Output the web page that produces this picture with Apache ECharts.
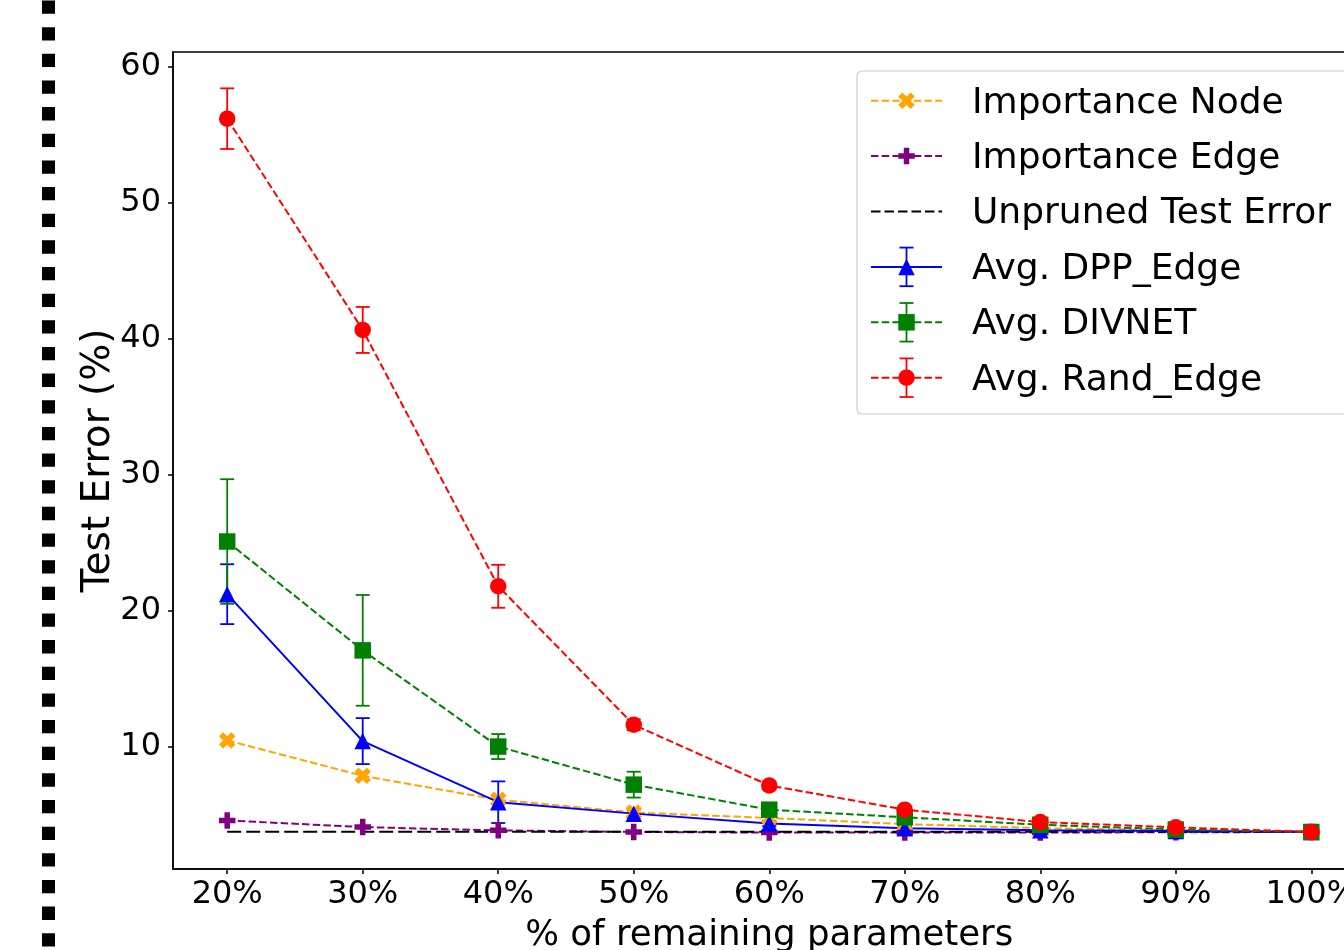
<!DOCTYPE html>
<html>
<head>
<meta charset="utf-8">
<script src="https://cdn.jsdelivr.net/npm/echarts@6/dist/echarts.min.js"></script>
<style>
html,body{margin:0;padding:0;background:#fff;}
#chart{width:1344px;height:950px;}
</style>
</head>
<body>
<div id="chart"></div>
<script>
// ---- data ----
const xValues = [20, 30, 40, 50, 60, 70, 80, 90, 100];
const xTickLabels = ['20%', '30%', '40%', '50%', '60%', '70%', '80%', '90%', '100%'];
const yTicks = [10, 20, 30, 40, 50, 60];

const importanceNode = [10.45, 7.85, 6.09, 5.15, 4.75, 4.3, 4.0, 3.85, 3.75];
const importanceEdge = [4.57, 4.08, 3.84, 3.72, 3.68, 3.68, 3.68, 3.7, 3.72];
const unpruned = [3.74, 3.74, 3.74, 3.74, 3.74, 3.74, 3.74, 3.74, 3.74];
const dppEdge = [21.2, 10.4, 5.91, 5.07, 4.35, 4.0, 3.85, 3.8, 3.72];
const dppEdgeErr = [2.2, 1.69, 1.53, 0.3, 0.2, 0.15, 0.1, 0.1, 0.05];
const divnet = [25.07, 17.07, 10.0, 7.2, 5.36, 4.8, 4.25, 3.9, 3.72];
const divnetErr = [4.58, 4.07, 0.92, 0.95, 0.3, 0.25, 0.2, 0.15, 0.1];
const randEdge = [56.15, 40.62, 21.78, 11.6, 7.14, 5.36, 4.45, 4.06, 3.72];
const randEdgeErr = [2.23, 1.69, 1.58, 0.4, 0.3, 0.25, 0.2, 0.15, 0.1];

const seriesNames = ['Importance Node', 'Importance Edge', 'Unpruned Test Error', 'Avg. DPP_Edge', 'Avg. DIVNET', 'Avg. Rand_Edge'];

// ---- styles ----
const FONT = 'DejaVu Sans';
const COLORS = ['#FFA500', '#800080', '#000000', '#0000FF', '#008000', '#FF0000'];
const DASH = [7.5, 3.2];
const MS = 16.5;
const X_PATH = 'path://M1,0 L2,1 L3,0 L4,1 L3,2 L4,3 L3,4 L2,3 L1,4 L0,3 L1,2 L0,1 Z';
const P_PATH = 'path://M1,0 L2,0 L2,1 L3,1 L3,2 L2,2 L2,3 L1,3 L1,2 L0,2 L0,1 L1,1 Z';

function pairs(vals) { return xValues.map((x, i) => [x, vals[i]]); }
function errData(vals, errs) { return xValues.map((x, i) => [x, vals[i] - errs[i], vals[i] + errs[i]]); }

function errSeries(vals, errs, color) {
  return {
    type: 'custom',
    silent: true,
    data: errData(vals, errs),
    encode: { x: 0, y: [1, 2] },
    renderItem: function (params, api) {
      const lo = api.coord([api.value(0), api.value(1)]);
      const hi = api.coord([api.value(0), api.value(2)]);
      const cw = 7;
      const st = { stroke: color, lineWidth: 1.8 };
      return {
        type: 'group',
        children: [
          { type: 'line', shape: { x1: lo[0], y1: lo[1], x2: hi[0], y2: hi[1] }, style: st },
          { type: 'line', shape: { x1: lo[0] - cw, y1: lo[1], x2: lo[0] + cw, y2: lo[1] }, style: st },
          { type: 'line', shape: { x1: hi[0] - cw, y1: hi[1], x2: hi[0] + cw, y2: hi[1] }, style: st }
        ]
      };
    }
  };
}

function lineSeries(name, vals, color, symbol, size, dashed) {
  return {
    name: name,
    type: 'line',
    data: pairs(vals),
    symbol: symbol,
    symbolSize: size,
    showSymbol: symbol !== 'none',
    silent: true,
    animation: false,
    lineStyle: { color: color, width: 2, type: dashed },
    itemStyle: { color: color, borderWidth: 0 }
  };
}

const series = [
  lineSeries(seriesNames[0], importanceNode, COLORS[0], X_PATH, MS, DASH),
  lineSeries(seriesNames[1], importanceEdge, COLORS[1], P_PATH, MS, DASH),
  lineSeries(seriesNames[2], unpruned, COLORS[2], 'none', 0, [14, 5]),
  errSeries(dppEdge, dppEdgeErr, COLORS[3]),
  lineSeries(seriesNames[3], dppEdge, COLORS[3], 'triangle', MS, 'solid'),
  errSeries(divnet, divnetErr, COLORS[4]),
  lineSeries(seriesNames[4], divnet, COLORS[4], 'rect', MS, DASH),
  errSeries(randEdge, randEdgeErr, COLORS[5]),
  lineSeries(seriesNames[5], randEdge, COLORS[5], 'circle', MS, DASH)
];

// ---- legend built as graphic (matplotlib style) ----
const LG = { x: 857, y: 71, rowY0: 100.7, rowStep: 55.4, lineX1: 871, lineX2: 942, mx: 906.5, textX: 972, textDy: 2.5 };
const legendKinds = [
  { marker: 'x', dash: DASH, err: false },
  { marker: 'plus', dash: DASH, err: false },
  { marker: 'none', dash: [9.5, 4], err: false },
  { marker: 'triangle', dash: null, err: true },
  { marker: 'square', dash: DASH, err: true },
  { marker: 'circle', dash: DASH, err: true }
];
function markerGraphic(kind, cx, cy, color) {
  const s = MS / 2;
  if (kind === 'circle') return { type: 'circle', shape: { cx: cx, cy: cy, r: s }, style: { fill: color } };
  if (kind === 'square') return { type: 'rect', shape: { x: cx - s, y: cy - s, width: 2 * s, height: 2 * s }, style: { fill: color } };
  if (kind === 'triangle') return { type: 'polygon', shape: { points: [[cx, cy - s], [cx + s, cy + s], [cx - s, cy + s]] }, style: { fill: color } };
  if (kind === 'x') {
    const u = 2 * s / 4;
    const pts = [[1,0],[2,1],[3,0],[4,1],[3,2],[4,3],[3,4],[2,3],[1,4],[0,3],[1,2],[0,1]].map(p => [cx - s + p[0] * u, cy - s + p[1] * u]);
    return { type: 'polygon', shape: { points: pts }, style: { fill: color } };
  }
  if (kind === 'plus') {
    const u = 2 * s / 3;
    const pts = [[1,0],[2,0],[2,1],[3,1],[3,2],[2,2],[2,3],[1,3],[1,2],[0,2],[0,1],[1,1]].map(p => [cx - s + p[0] * u, cy - s + p[1] * u]);
    return { type: 'polygon', shape: { points: pts }, style: { fill: color } };
  }
  return null;
}
const legendChildren = [
  { type: 'rect', shape: { x: LG.x, y: LG.y, width: 560, height: 343, r: 5 }, style: { fill: 'rgba(255,255,255,0.85)', stroke: '#cccccc', lineWidth: 1.2 } }
];
seriesNames.forEach((name, i) => {
  const cy = LG.rowY0 + i * LG.rowStep;
  const k = legendKinds[i];
  const color = COLORS[i];
  legendChildren.push({ type: 'line', shape: { x1: LG.lineX1, y1: cy, x2: LG.lineX2, y2: cy }, style: { stroke: color, lineWidth: 2, lineDash: k.dash || null } });
  if (k.err) {
    const h = 19.3, cw = 7;
    legendChildren.push({ type: 'line', shape: { x1: LG.mx, y1: cy - h, x2: LG.mx, y2: cy + h }, style: { stroke: color, lineWidth: 1.8 } });
    legendChildren.push({ type: 'line', shape: { x1: LG.mx - cw, y1: cy - h, x2: LG.mx + cw, y2: cy - h }, style: { stroke: color, lineWidth: 1.8 } });
    legendChildren.push({ type: 'line', shape: { x1: LG.mx - cw, y1: cy + h, x2: LG.mx + cw, y2: cy + h }, style: { stroke: color, lineWidth: 1.8 } });
  }
  const m = markerGraphic(k.marker, LG.mx, cy, color);
  if (m) legendChildren.push(m);
  legendChildren.push({ type: 'text', x: LG.textX, y: cy + LG.textDy, style: { text: name, font: '36px "DejaVu Sans"', fill: '#000', textVerticalAlign: 'middle', textAlign: 'left' } });
});

const chart = echarts.init(document.getElementById('chart'), null, { renderer: 'canvas' });
chart.setOption({
  animation: false,
  backgroundColor: '#ffffff',
  textStyle: { fontFamily: FONT },
  grid: { left: 173, top: 52, right: -21.5, bottom: 81, containLabel: false, outerBoundsMode: 'none',
    show: true, borderColor: '#000', borderWidth: 1.5, backgroundColor: 'transparent' },
  xAxis: {
    type: 'value', min: 16, max: 104,
    name: '% of remaining parameters', nameLocation: 'middle', nameGap: 49, nameMoveOverlap: false,
    nameTextStyle: { fontSize: 35.6, color: '#000', fontFamily: FONT },
    axisLine: { show: true, lineStyle: { color: '#000', width: 1.5 } },
    axisTick: { show: true, length: 5, lineStyle: { color: '#000', width: 1.5 }, customValues: xValues },
    axisLabel: { show: true, fontSize: 32, color: '#000', fontFamily: FONT, margin: 9.5, customValues: xValues,
      formatter: function (v) { const i = xValues.indexOf(v); return i >= 0 ? xTickLabels[i] : ''; } },
    splitLine: { show: false }
  },
  yAxis: {
    type: 'value', min: 1.0, max: 61.05,
    name: 'Test Error (%)', nameLocation: 'middle', nameGap: 55, nameMoveOverlap: false,
    nameTextStyle: { fontSize: 39, color: '#000', fontFamily: FONT },
    axisLine: { show: true, lineStyle: { color: '#000', width: 1.5 } },
    axisTick: { show: true, length: 5, lineStyle: { color: '#000', width: 1.5 }, customValues: yTicks },
    axisLabel: { show: true, fontSize: 32, color: '#000', fontFamily: FONT, margin: 12, customValues: yTicks },
    splitLine: { show: false }
  },
  series: series,
  graphic: [
    { type: 'line', z: 100, shape: { x1: 48.5, y1: 0.5, x2: 48.5, y2: 950 }, style: { stroke: '#000', lineWidth: 13, lineDash: [13.3, 13.35], lineCap: 'butt' } },
    { type: 'group', z: 100, children: legendChildren }
  ]
});
</script>
</body>
</html>
